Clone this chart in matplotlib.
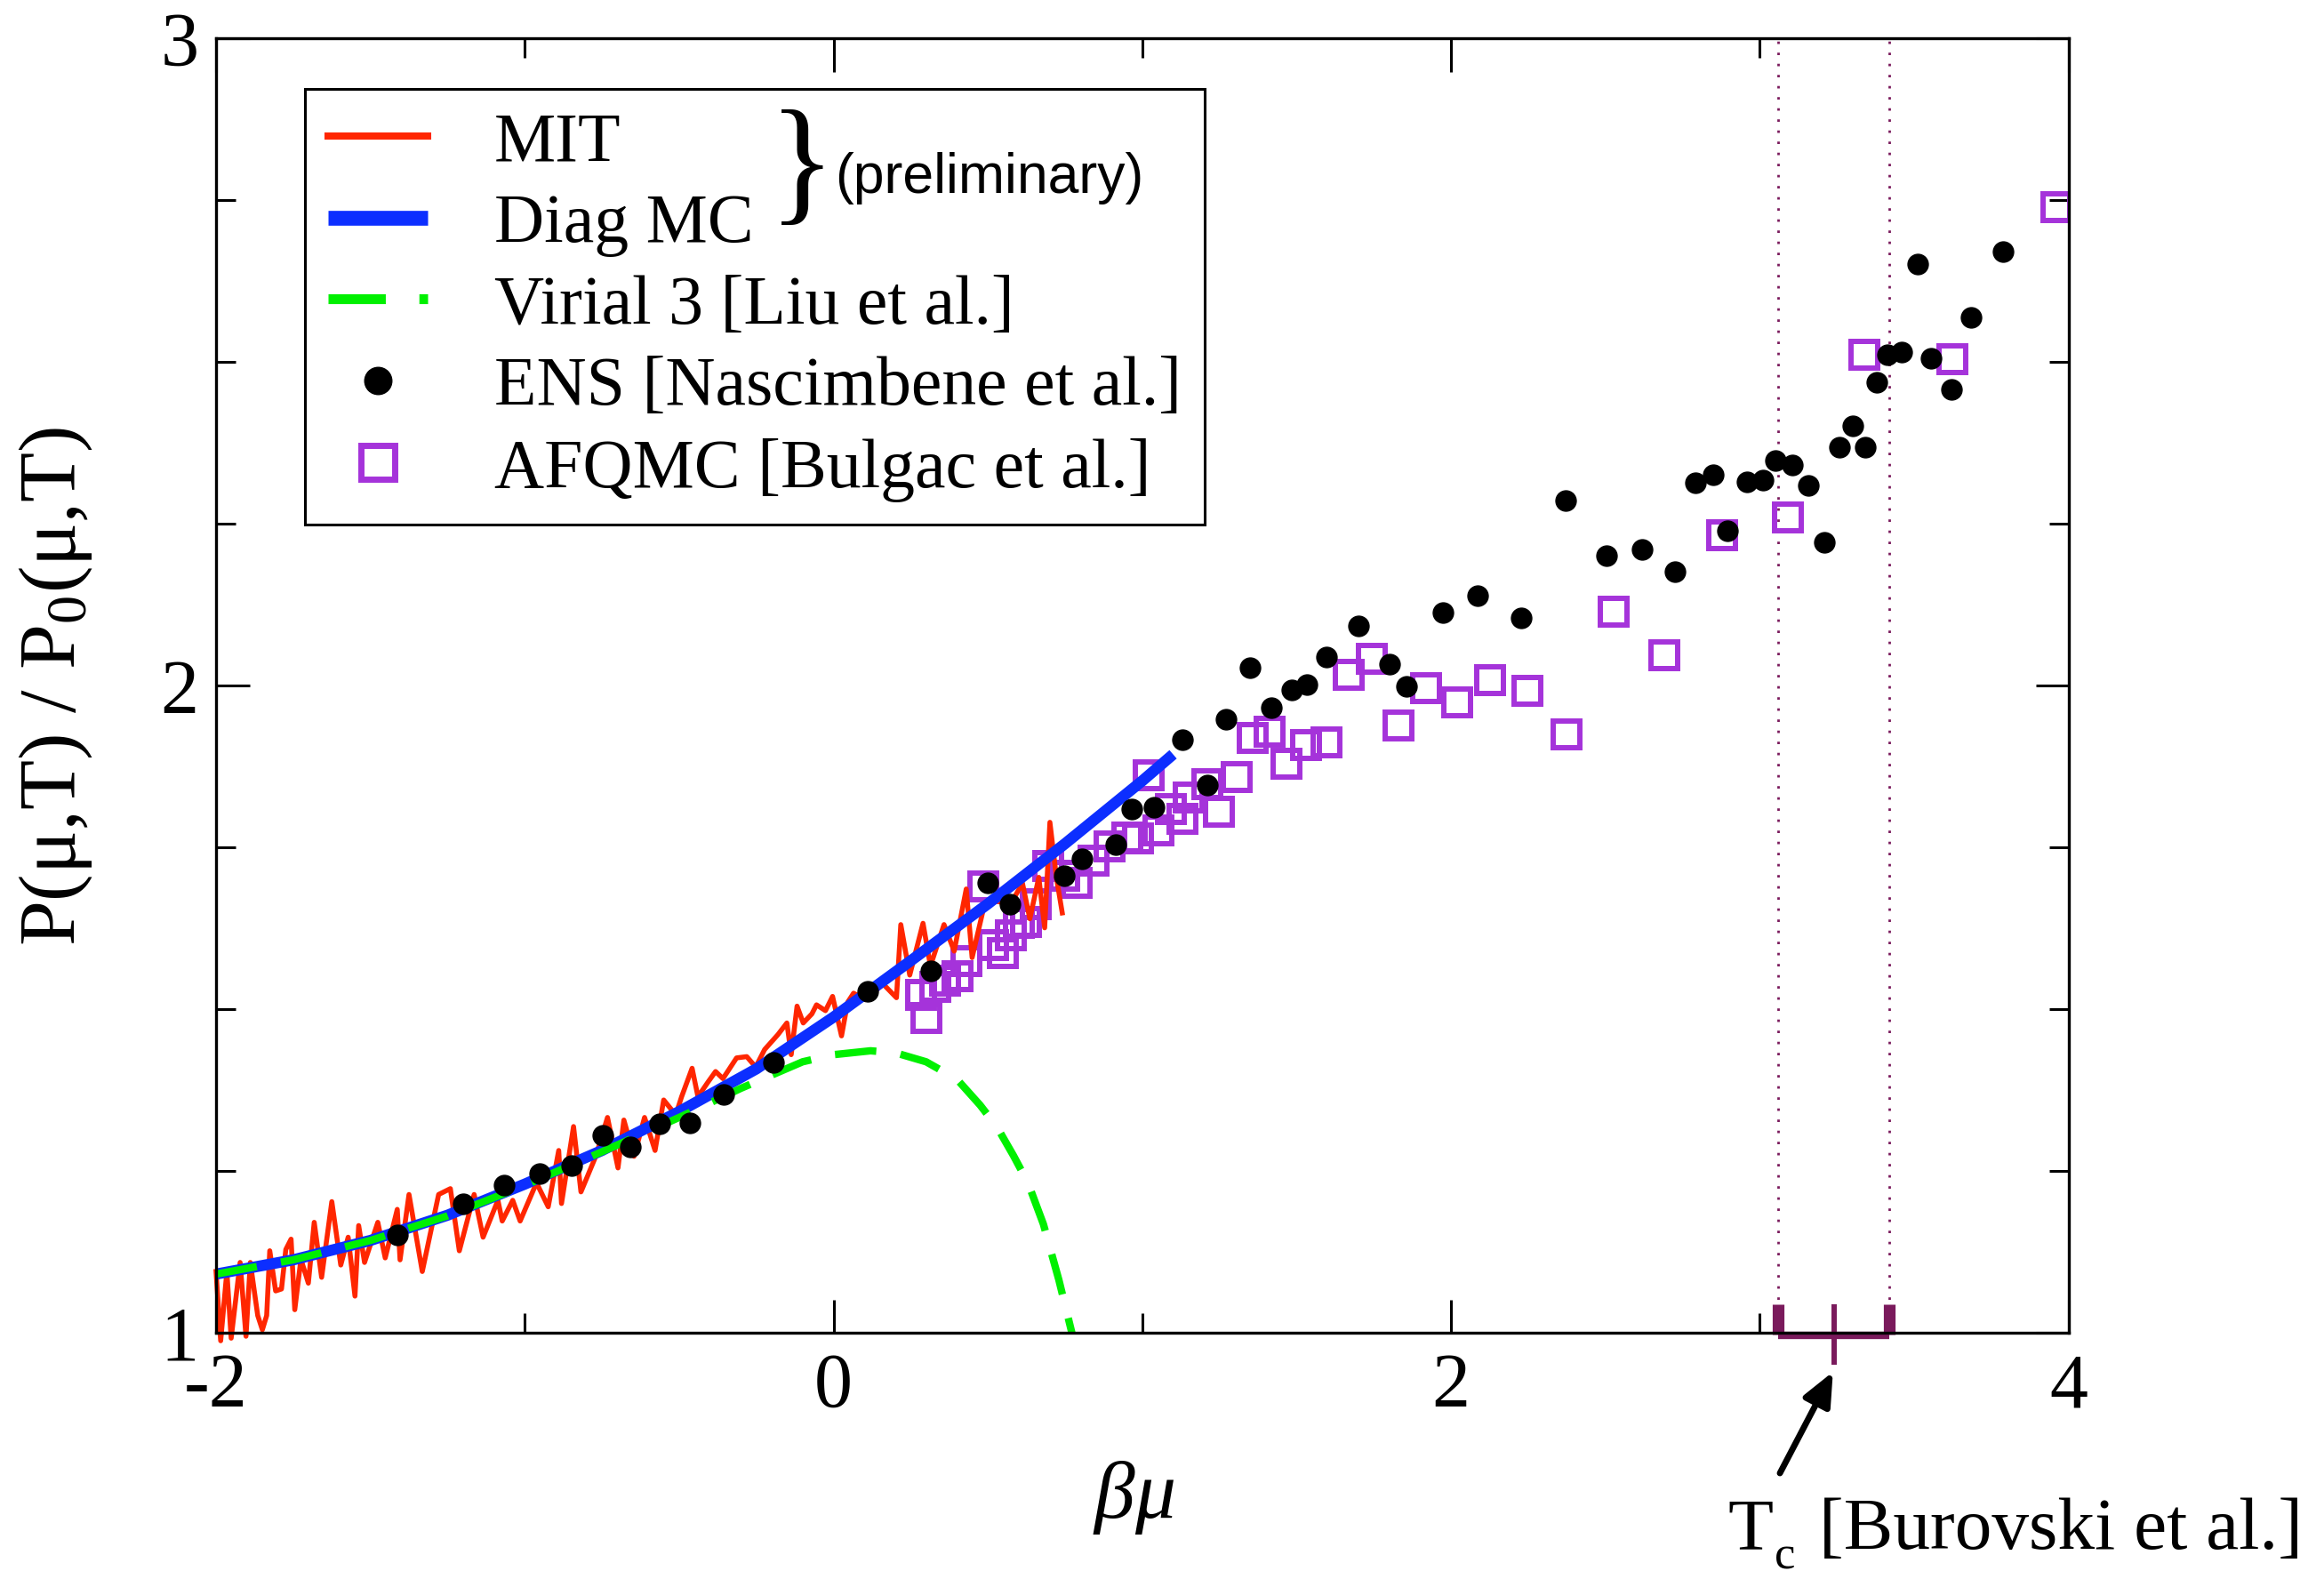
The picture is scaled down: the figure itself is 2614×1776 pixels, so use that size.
import matplotlib
matplotlib.use('Agg')
import matplotlib.pyplot as plt
from matplotlib.lines import Line2D
from matplotlib.ticker import MultipleLocator, FixedLocator

plt.rcParams['font.family'] = ['Liberation Serif', 'DejaVu Serif']
plt.rcParams['mathtext.fontset'] = 'custom'
plt.rcParams['mathtext.rm'] = 'Liberation Serif'
plt.rcParams['mathtext.it'] = 'Liberation Serif:italic'
plt.rcParams['axes.unicode_minus'] = False

# ---------------- data ----------------
mit_x = [-2.000, -1.985, -1.965, -1.951, -1.922, -1.903, -1.889, -1.865, -1.850, -1.836,
         -1.826, -1.807, -1.788, -1.774, -1.757, -1.745, -1.725, -1.701, -1.682, -1.658,
         -1.625, -1.596, -1.572, -1.550, -1.538, -1.519, -1.476, -1.452, -1.413, -1.404,
         -1.375, -1.332, -1.279, -1.241, -1.212, -1.164, -1.135, -1.087, -1.073, -1.039,
         -1.015, -0.962, -0.924, -0.890, -0.881, -0.842, -0.818, -0.770, -0.732, -0.698,
         -0.679, -0.646, -0.612, -0.578, -0.550, -0.511, -0.492, -0.458, -0.439, -0.406,
         -0.382, -0.358, -0.314, -0.281, -0.252, -0.223, -0.180, -0.151, -0.137, -0.118,
         -0.098, -0.070, -0.055, -0.026, -0.003, 0.026, 0.046, 0.065, 0.103, 0.161,
         0.204, 0.218, 0.247, 0.290, 0.314, 0.358, 0.391, 0.430, 0.449, 0.487,
         0.526, 0.574, 0.612, 0.636, 0.665, 0.684, 0.701, 0.722, 0.741]
mit_y = [1.095, 0.988, 1.095, 0.992, 1.109, 0.995, 1.109, 1.027, 1.005, 1.027,
         1.127, 1.065, 1.068, 1.129, 1.145, 1.036, 1.114, 1.077, 1.171, 1.086,
         1.203, 1.105, 1.148, 1.057, 1.166, 1.109, 1.171, 1.116, 1.191, 1.113,
         1.214, 1.095, 1.214, 1.223, 1.127, 1.214, 1.148, 1.205, 1.173, 1.205,
         1.173, 1.232, 1.195, 1.282, 1.200, 1.319, 1.218, 1.273, 1.333, 1.255,
         1.329, 1.273, 1.333, 1.282, 1.360, 1.337, 1.365, 1.409, 1.365, 1.388,
         1.404, 1.393, 1.425, 1.427, 1.411, 1.438, 1.461, 1.479, 1.430, 1.505,
         1.479, 1.493, 1.507, 1.498, 1.520, 1.459, 1.511, 1.525, 1.515, 1.539,
         1.518, 1.631, 1.553, 1.633, 1.567, 1.631, 1.590, 1.686, 1.580, 1.658,
         1.667, 1.663, 1.695, 1.640, 1.704, 1.626, 1.789, 1.704, 1.649]

diag_x = [-2.0, -1.75, -1.5, -1.25, -1.0, -0.75, -0.5, -0.25, 0.0, 0.25, 0.5, 0.75, 1.0, 1.1]
diag_y = [1.091, 1.113, 1.143, 1.182, 1.230, 1.282, 1.342, 1.408, 1.488, 1.575, 1.663, 1.756, 1.853, 1.894]

vir_x = [-2.0, -1.75, -1.5, -1.25, -1.0, -0.75, -0.5, -0.3, -0.1, 0.0, 0.12, 0.2, 0.3,
         0.4, 0.475, 0.53, 0.583, 0.63, 0.68, 0.73, 0.78]
vir_y = [1.091, 1.113, 1.143, 1.181, 1.228, 1.280, 1.333, 1.378, 1.419, 1.430, 1.436, 1.433, 1.419,
         1.392, 1.352, 1.318, 1.274, 1.232, 1.168, 1.082, 0.985]

ens_x = [-1.413, -1.200, -1.066, -0.953, -0.847, -0.748, -0.657, -0.562, -0.465, -0.356,
         -0.193, 0.111, 0.314, 0.501, 0.573, 0.746, 0.806, 0.914, 0.967, 1.039,
         1.130, 1.210, 1.271, 1.350, 1.418, 1.485, 1.533, 1.598, 1.700, 1.800,
         1.857, 1.973, 2.087, 2.228, 2.371, 2.503, 2.620, 2.725, 2.793, 2.849,
         2.897, 2.960, 3.012, 3.052, 3.107, 3.158, 3.210, 3.259, 3.302, 3.341,
         3.378, 3.413, 3.461, 3.511, 3.556, 3.620, 3.686, 3.788]
ens_y = [1.152, 1.200, 1.229, 1.246, 1.258, 1.306, 1.288, 1.323, 1.324, 1.368,
         1.418, 1.528, 1.560, 1.695, 1.663, 1.707, 1.732, 1.755, 1.809, 1.812,
         1.916, 1.846, 1.948, 2.028, 1.966, 1.994, 2.002, 2.044, 2.092, 2.033,
         1.999, 2.113, 2.139, 2.105, 2.286, 2.201, 2.210, 2.176, 2.314, 2.326,
         2.239, 2.315, 2.318, 2.348, 2.341, 2.310, 2.221, 2.369, 2.402, 2.368,
         2.469, 2.511, 2.515, 2.651, 2.506, 2.458, 2.569, 2.671]

afq_x = [0.285, 0.302, 0.330, 0.360, 0.401, 0.430, 0.485, 0.517, 0.549, 0.575,
         0.600, 0.624, 0.655, 0.696, 0.746, 0.787, 0.842, 0.895, 0.952, 0.986,
         1.020, 1.053, 1.092, 1.130, 1.151, 1.212, 1.249, 1.306, 1.357, 1.412,
         1.467, 1.532, 1.597, 1.668, 1.745, 1.829, 1.920, 2.019, 2.127, 2.247,
         2.375, 2.528, 2.692, 2.879, 3.091, 3.340, 3.625, 3.960]
afq_y = [1.523, 1.487, 1.535, 1.545, 1.551, 1.575, 1.690, 1.599, 1.587, 1.615,
         1.633, 1.635, 1.663, 1.722, 1.706, 1.695, 1.730, 1.752, 1.766, 1.764,
         1.862, 1.777, 1.810, 1.795, 1.828, 1.848, 1.805, 1.859, 1.920, 1.929,
         1.880, 1.908, 1.913, 2.017, 2.042, 1.939, 1.996, 1.974, 2.008, 1.992,
         1.925, 2.115, 2.047, 2.233, 2.260, 2.512, 2.504, 2.739]

tc_center = 3.24
tc_low = 3.06
tc_high = 3.42

x_major = [-2, 0, 2, 4]
x_minor = [-1, 1, 3]

labels = ['MIT', 'Diag MC', 'Virial 3 [Liu et al.]', 'ENS [Nascimbene et al.]',
          'AFQMC [Bulgac et al.]']

# ---------------- colours ----------------
RED = '#FF2600'
BLUE = '#0C2EFF'
GREEN = '#00F000'
PURPLE = '#A533DA'
MAROON = '#7A1A5C'

W, H = 2614, 1776
fig = plt.figure(figsize=(W / 100, H / 100), dpi=100)
L, R, T, B = 243, 2326.5, 43.3, 1499.3
ax = fig.add_axes([L / W, 1 - B / H, (R - L) / W, (B - T) / H])

ax.plot(afq_x, afq_y, ls='none', marker='s', ms=21, mfc='none', mec=PURPLE, mew=4.3, zorder=2)
ax.plot(mit_x, mit_y, color=RED, lw=4.0, zorder=3, clip_on=False)
ax.plot(diag_x, diag_y, color=BLUE, lw=9, solid_capstyle='butt', zorder=4)
ax.plot(vir_x, vir_y, color=GREEN, lw=6.0, dashes=(5.6, 3.3), zorder=5)
ax.plot(ens_x, ens_y, ls='none', marker='o', ms=16.5, color='black', zorder=6)

# Tc marker
for xv in (tc_low, tc_high):
    ax.axvline(xv, color=MAROON, lw=2.0, ls=(0, (1, 3.5)), zorder=1)
ax.plot([tc_low, tc_high], [0.9965, 0.9965], color=MAROON, lw=6, solid_capstyle='butt',
        clip_on=False, zorder=7)
for xv in (tc_low, tc_high):
    ax.plot([xv, xv], [0.998, 1.044], color=MAROON, lw=9.5, solid_capstyle='butt',
            clip_on=False, zorder=7)
ax.plot([tc_center, tc_center], [0.951, 1.044], color=MAROON, lw=4.3, solid_capstyle='butt',
        clip_on=False, zorder=7)

ax.set_xlim(-2, 4)
ax.set_ylim(1, 3)
ax.xaxis.set_major_locator(FixedLocator(x_major))
ax.xaxis.set_minor_locator(FixedLocator(x_minor))
ax.yaxis.set_major_locator(MultipleLocator(1))
ax.yaxis.set_minor_locator(MultipleLocator(0.25))
ax.tick_params(which='both', direction='in', top=True, right=True, width=2.2, colors='black')
ax.tick_params(which='major', length=27, labelsize=62)
ax.tick_params(axis='x', which='major', pad=16)
ax.tick_params(axis='y', which='major', pad=14)
ax.tick_params(which='minor', length=16)
for s in ax.spines.values():
    s.set_linewidth(2.4)
    s.set_zorder(8)

ax.set_xlabel(r'$\beta\mu$', fontsize=66)
ax.xaxis.label.set_va('center')
ax.xaxis.set_label_coords((1275 - L) / (R - L), (B - 1684) / (B - T))
ax.set_ylabel('P(μ,T) / P$_0$(μ,T)', fontsize=66)
ax.yaxis.label.set_va('center')
ax.yaxis.set_label_coords((63 - L) / (R - L), (B - 772) / (B - T))

handles = [
    Line2D([], [], color=RED, lw=5.8),
    Line2D([], [], color=BLUE, lw=12, solid_capstyle='butt'),
    Line2D([], [], color=GREEN, lw=8, dashes=(5.8, 3.4)),
    Line2D([], [], ls='none', marker='o', color='black', ms=22),
    Line2D([], [], ls='none', marker='s', mfc='none', mec=PURPLE, mew=5, ms=27),
]
leg = ax.legend(handles, labels, loc='upper left',
                bbox_to_anchor=((343 - L) / (R - L), (B - 100) / (B - T)),
                borderaxespad=0, fontsize=56, frameon=True, fancybox=False,
                edgecolor='black', framealpha=1, borderpad=0.33, labelspacing=0.26,
                handlelength=1.45, handletextpad=0.96, numpoints=1)
leg.get_frame().set_linewidth(2.2)
leg.set_zorder(10)

fig.text(902 / W, 1 - 194 / H, '}', fontsize=112, ha='center', va='center')
fig.text(939 / W, 1 - 217 / H, '(preliminary)', family=['Liberation Sans', 'DejaVu Sans'],
         fontsize=45, ha='left', va='baseline')

# Tc label: T with a lowered subscript c
fig.text(1943 / W, 1 - 1742 / H, 'T', fontsize=60, ha='left', va='baseline')
fig.text(1996 / W, 1 - 1775 / H, 'c', fontsize=38, ha='left', va='bottom')
fig.text(2046 / W, 1 - 1742 / H, '[Burovski et al.]', fontsize=60, ha='left', va='baseline')
ax.annotate('', xy=(2061.7, H - 1543), xycoords='figure pixels',
            xytext=(2002, H - 1657), textcoords='figure pixels',
            arrowprops=dict(arrowstyle='-|>,head_length=0.5,head_width=0.22',
                            mutation_scale=45, lw=5, color='black',
                            shrinkA=0, shrinkB=0),
            annotation_clip=False)

fig.savefig('out.png', dpi=100)
